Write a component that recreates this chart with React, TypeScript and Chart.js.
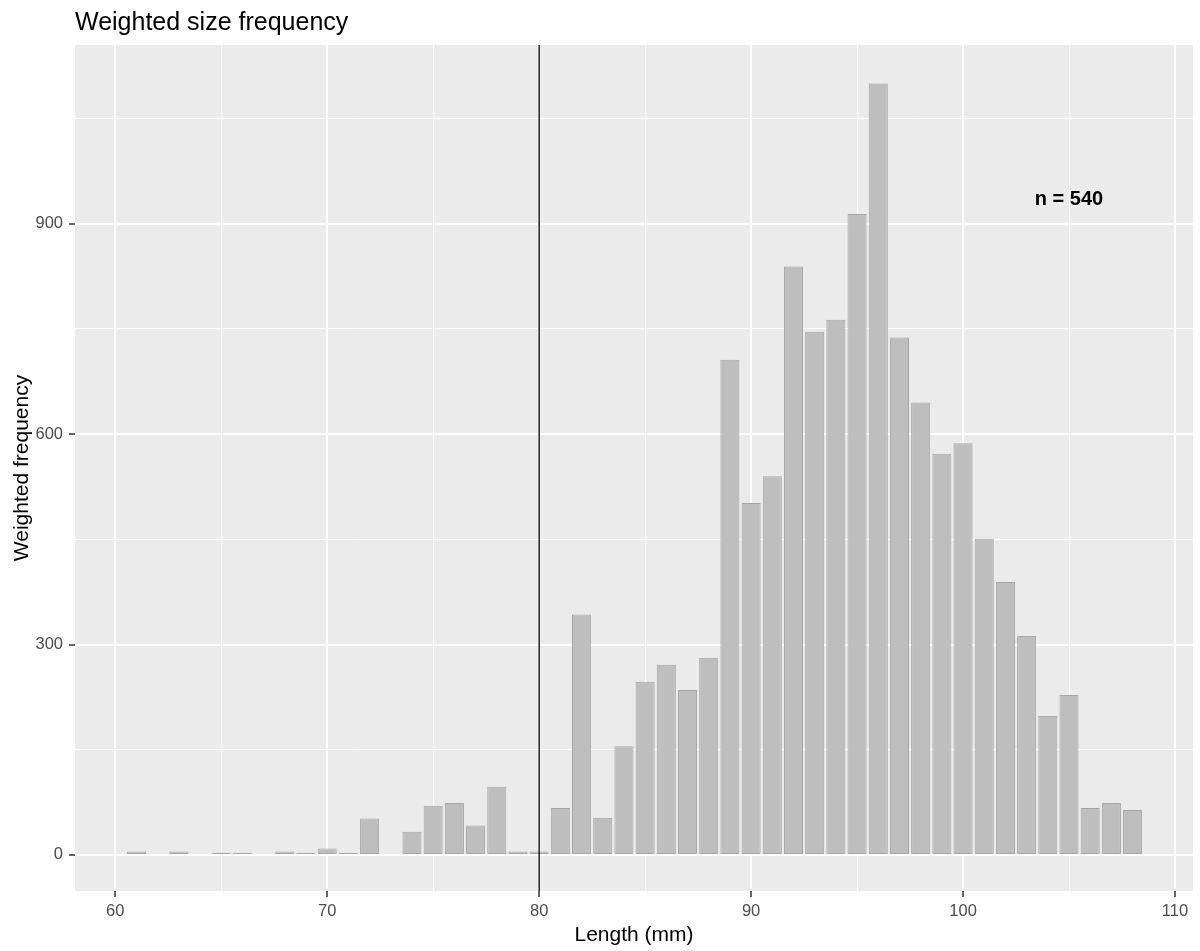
import React, { useEffect, useRef } from 'react';
import { Chart, registerables } from 'chart.js';

Chart.register(...registerables);

// ---- data ----
const lengths = [
  61, 63, 65, 66, 68, 69, 70, 71, 72, 74, 75, 76, 77, 78, 79, 80,
  81, 82, 83, 84, 85, 86, 87, 88, 89, 90, 91, 92, 93, 94, 95, 96,
  97, 98, 99, 100, 101, 102, 103, 104, 105, 106, 107, 108,
];
const frequencies = [
  5, 5, 3, 3, 5, 3, 9, 3, 52, 33, 70, 74, 42, 97, 5, 5,
  67, 343, 53, 155, 247, 271, 235, 281, 706, 502, 540, 839, 746, 763, 914, 1100,
  738, 645, 572, 587, 451, 389, 312, 198, 228, 67, 74, 64,
];
const xTickLabels = [60, 70, 80, 90, 100, 110];
const xGridBreaks = [60, 65, 70, 75, 80, 85, 90, 95, 100, 105, 110];
const yTickLabels = [0, 300, 600, 900];
const yGridBreaks = [0, 150, 300, 450, 600, 750, 900, 1050];
const referenceLength = 80;
const sampleLabel = 'n = 540';
const sampleLabelX = 105;
const sampleLabelY = 935;
const titleText = 'Weighted size frequency';
const xTitle = 'Length (mm)';
const yTitle = 'Weighted frequency';

const FONT = "'Liberation Sans', Arial, Helvetica, sans-serif";

const panelPlugin = {
  id: 'ggPanel',
  beforeDraw(chart: any) {
    const { ctx, chartArea } = chart;
    ctx.save();
    ctx.fillStyle = '#EBEBEB';
    ctx.fillRect(chartArea.left, chartArea.top, chartArea.right - chartArea.left, chartArea.bottom - chartArea.top);
    ctx.restore();
  },
  afterDatasetsDraw(chart: any) {
    const { ctx, chartArea, scales } = chart;
    const x = scales.x.getPixelForValue(referenceLength);
    ctx.save();
    ctx.strokeStyle = '#000000';
    ctx.lineWidth = 1.3;
    ctx.beginPath();
    ctx.moveTo(x, chartArea.top);
    ctx.lineTo(x, chartArea.bottom);
    ctx.stroke();
    ctx.fillStyle = '#000000';
    ctx.font = `bold 20px ${FONT}`;
    ctx.textAlign = 'center';
    ctx.textBaseline = 'middle';
    ctx.fillText(sampleLabel, scales.x.getPixelForValue(sampleLabelX), scales.y.getPixelForValue(sampleLabelY));
    ctx.restore();
  },
};

export default function App() {
  const canvasRef = useRef<HTMLCanvasElement | null>(null);

  useEffect(() => {
    if (!canvasRef.current) return;
    const chart = new Chart(canvasRef.current, {
      type: 'bar',
      data: {
        datasets: [
          {
            data: lengths.map((l, i) => ({ x: l, y: frequencies[i] })),
            backgroundColor: '#BEBEBE',
            borderColor: '#A6A6A6',
            borderWidth: 1,
            borderSkipped: false,
            barPercentage: 0.9,
            categoryPercentage: 1,
          },
        ],
      },
      plugins: [panelPlugin],
      options: {
        animation: false,
        responsive: false,
        maintainAspectRatio: false,
        layout: { padding: { top: 0, right: 7, bottom: 0, left: 0 } },
        plugins: {
          legend: { display: false },
          tooltip: { enabled: false },
          title: {
            display: true,
            text: titleText,
            align: 'start',
            fullSize: false,
            color: '#000000',
            font: { family: FONT, size: 25, weight: 'normal' },
            padding: { top: 8, bottom: 7 },
          },
        },
        scales: {
          x: {
            type: 'linear',
            min: 58.1,
            max: 110.85,
            offset: false,
            border: { display: false },
            grid: {
              offset: false,
              color: '#FFFFFF',
              lineWidth: (c: any) => (c.tick && xTickLabels.includes(c.tick.value) ? 2 : 1),
              tickColor: (c: any) => (c.tick && xTickLabels.includes(c.tick.value) ? '#333333' : 'rgba(0,0,0,0)'),
              tickWidth: 1.5,
              tickLength: 6,
              drawTicks: true,
            },
            afterBuildTicks: (s: any) => {
              s.ticks = xGridBreaks.map((v) => ({ value: v }));
            },
            ticks: {
              autoSkip: false,
              maxRotation: 0,
              padding: 5,
              color: '#4D4D4D',
              font: { family: FONT, size: 16.5 },
              callback: (v: any) => (xTickLabels.includes(Number(v)) ? String(v) : ''),
            },
            title: {
              display: true,
              text: xTitle,
              color: '#000000',
              font: { family: FONT, size: 21 },
              padding: { top: 0, bottom: 3 },
            },
            afterFit: (s: any) => {
              s.height = 60;
            },
          },
          y: {
            type: 'linear',
            min: -51.5,
            max: 1155,
            border: { display: false },
            grid: {
              offset: false,
              color: '#FFFFFF',
              lineWidth: (c: any) => (c.tick && yTickLabels.includes(c.tick.value) ? 2 : 1),
              tickColor: (c: any) => (c.tick && yTickLabels.includes(c.tick.value) ? '#333333' : 'rgba(0,0,0,0)'),
              tickWidth: 1.5,
              tickLength: 6,
              drawTicks: true,
            },
            afterBuildTicks: (s: any) => {
              s.ticks = yGridBreaks.map((v) => ({ value: v }));
            },
            ticks: {
              autoSkip: false,
              padding: 6,
              color: '#4D4D4D',
              font: { family: FONT, size: 16.5 },
              callback: (v: any) => (yTickLabels.includes(Number(v)) ? String(v) : ''),
            },
            title: {
              display: true,
              text: yTitle,
              color: '#000000',
              font: { family: FONT, size: 21 },
              padding: { top: 10, bottom: 0 },
            },
            afterFit: (s: any) => {
              s.width = 75;
            },
          },
        },
      },
    } as any);
    return () => chart.destroy();
  }, []);

  return (
    <div style={{ position: 'absolute', left: 0, top: 0, width: 1200, height: 951, background: '#FFFFFF' }}>
      <canvas ref={canvasRef} width={1200} height={951} style={{ display: 'block', width: 1200, height: 951 }} />
    </div>
  );
}
